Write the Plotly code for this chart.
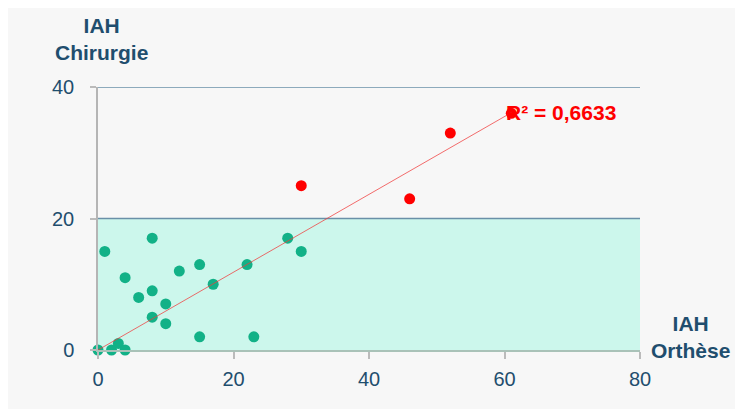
import numpy as np
import plotly.graph_objects as go

# Data (IAH Orthèse vs IAH Chirurgie)
green_x = [0, 1, 2, 3, 4, 4, 6, 8, 8, 8, 10, 10, 12, 15, 15, 17, 22, 23, 28, 30]
green_y = [0, 15, 0, 1, 0, 11, 8, 17, 9, 5, 7, 4, 12, 13, 2, 10, 13, 2, 17, 15]
red_x = [30, 46, 52, 61]
red_y = [25, 23, 33, 36]
r2_label = "R² = 0,6633"
x_ticks = [0, 20, 40, 60, 80]
y_ticks = [0, 20, 40]

all_x = np.array(green_x + red_x, dtype=float)
all_y = np.array(green_y + red_y, dtype=float)
slope = (all_x * all_y).sum() / (all_x * all_x).sum()  # trendline through origin
line_x = [all_x.min(), all_x.max()]
line_y = [slope * v for v in line_x]

TXT = "#1f4e6e"
FONT = "Liberation Sans, Arial, sans-serif"

fig = go.Figure()
fig.add_trace(go.Scatter(x=green_x, y=green_y, mode="markers", cliponaxis=False,
                         marker=dict(color="#12b187", size=11, line=dict(width=0)),
                         showlegend=False, hoverinfo="x+y"))
fig.add_trace(go.Scatter(x=red_x, y=red_y, mode="markers", cliponaxis=False,
                         marker=dict(color="#ff0000", size=11, line=dict(width=0)),
                         showlegend=False, hoverinfo="x+y"))
fig.add_trace(go.Scatter(x=line_x, y=line_y, mode="lines",
                         line=dict(color="rgba(240,60,60,0.75)", width=1),
                         showlegend=False, hoverinfo="skip"))

shapes = [
    dict(type="rect", xref="x", yref="y", x0=0, x1=80, y0=0, y1=20,
         fillcolor="#ccf7ec", line=dict(width=0), layer="below"),
    dict(type="line", xref="x", yref="y", x0=0, x1=80, y0=20, y1=20,
         line=dict(color="#6a90a8", width=1.5), layer="below"),
    dict(type="line", xref="x", yref="y", x0=0, x1=80, y0=40, y1=40,
         line=dict(color="#6a90a8", width=1.5), layer="below"),
]

annotations = [
    dict(text="<b>IAH<br>Chirurgie</b>", xref="paper", yref="paper",
         x=0.007, y=1.287, xanchor="center", yanchor="top", showarrow=False,
         font=dict(family=FONT, size=21, color=TXT), align="center"),
    dict(text="<b>IAH<br>Orthèse</b>", xref="paper", yref="paper",
         x=1.094, y=0.152, xanchor="center", yanchor="top", showarrow=False,
         font=dict(family=FONT, size=21, color=TXT), align="center"),
    dict(text="<b>" + r2_label + "</b>", xref="x", yref="y",
         x=line_x[1], y=line_y[1], xanchor="left", yanchor="middle", xshift=-7,
         showarrow=False, font=dict(family=FONT, size=21, color="#ff0000")),
]

fig.update_layout(
    width=735, height=401,
    margin=dict(l=90, r=103, t=79, b=59),
    paper_bgcolor="#f7f7f7",
    plot_bgcolor="#f7f7f7",
    shapes=shapes,
    annotations=annotations,
    font=dict(family=FONT, size=20, color=TXT),
    xaxis=dict(range=[0, 80], tickvals=x_ticks, showgrid=False, zeroline=False,
               showline=True, linecolor="#a9c2b8", linewidth=1.5,
               ticks="outside", ticklen=7, tickcolor="#bbbbbb", tickwidth=1.5,
               ticklabelstandoff=3,
               tickfont=dict(family=FONT, size=20, color=TXT), fixedrange=True),
    yaxis=dict(range=[0, 40], tickvals=y_ticks, showgrid=False, zeroline=False,
               showline=True, linecolor="#b5b5b5", linewidth=1.5,
               ticks="outside", ticklen=6, tickcolor="#bbbbbb", tickwidth=1.5,
               ticklabelstandoff=12,
               tickfont=dict(family=FONT, size=20, color=TXT), fixedrange=True),
)

fig.write_html("out.html")
